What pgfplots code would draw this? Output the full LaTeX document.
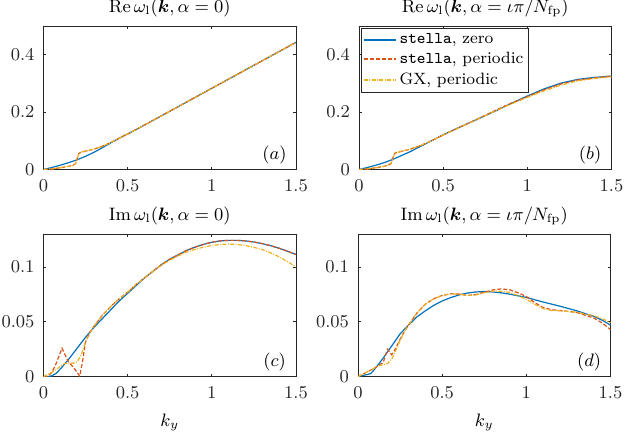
\documentclass[border=0pt]{standalone}
\usepackage{pgfplots}
\pgfplotsset{compat=1.18}
\usepackage{bm}
\definecolor{mblue}{rgb}{0,0.447,0.741}
\definecolor{morange}{rgb}{0.85,0.325,0.098}
\definecolor{myellow}{rgb}{0.929,0.694,0.125}
\definecolor{axgray}{rgb}{0.15,0.15,0.15}
\newcommand{\fs}{\fontsize{9}{10.5}\selectfont}
\newcommand{\fl}{\fontsize{8.2}{9.5}\selectfont}
\pgfplotsset{
  myax/.style={
    scale only axis, width=126.25pt, height=71.75pt,
    xmin=0, xmax=1.5, xtick={0,0.5,1,1.5},
    scaled ticks=false,
    tick align=inside, major tick length=1.3pt,
    axis line style={draw=axgray, line width=0.4pt},
    every tick/.style={draw=axgray, line width=0.4pt},
    ticklabel style={font=\fs, text=axgray},
    xticklabel style={yshift=-1.5pt},
    yticklabel style={xshift=-1pt},
    title style={font=\fs, text=black, yshift=-5pt},
    label style={font=\fs},
    xlabel style={yshift=-1pt},
    clip=true,
  },
  sb/.style={draw=mblue, line width=0.6pt, solid},
  so/.style={draw=morange, line width=0.6pt, dash pattern=on 2pt off 1pt},
  sy/.style={draw=myellow, line width=0.6pt, dash pattern=on 2pt off 0.7pt on 0.5pt off 0.7pt},
}
\begin{document}
\begin{tikzpicture}
\path[use as bounding box] (0,0) rectangle (320.5pt,218.5pt);
% (a)
\begin{axis}[myax, at={(21.75pt,133.75pt)}, anchor=south west,
  ymin=0, ymax=0.5, ytick={0,0.2,0.4},
  title={$\mathrm{Re}\,\omega_{\mathrm{l}}(\bm{k},\alpha=0)$}]
\addplot[sb] coordinates {(0,0)(0.05,0.007)(0.1,0.015)(0.15,0.024)(0.2,0.034)(0.25,0.046)(0.3,0.06)(0.35,0.076)(0.4,0.093)(0.45,0.109)(0.5,0.124)(0.55,0.139)(0.6,0.155)(0.7,0.187)(0.8,0.219)(0.9,0.251)(1.0,0.283)(1.1,0.315)(1.2,0.347)(1.3,0.379)(1.4,0.411)(1.5,0.443)};
\addplot[so] coordinates {(0,0)(0.05,0.002)(0.1,0.006)(0.15,0.011)(0.175,0.015)(0.19,0.02)(0.2,0.038)(0.21,0.056)(0.225,0.061)(0.25,0.064)(0.3,0.071)(0.35,0.081)(0.4,0.094)(0.45,0.109)(0.5,0.124)(0.55,0.139)(0.6,0.155)(0.7,0.187)(0.8,0.219)(0.9,0.251)(1.0,0.283)(1.1,0.315)(1.2,0.347)(1.3,0.379)(1.4,0.411)(1.5,0.443)};
\addplot[sy] coordinates {(0,0)(0.05,0.002)(0.1,0.006)(0.15,0.011)(0.175,0.014)(0.19,0.019)(0.2,0.037)(0.21,0.055)(0.225,0.061)(0.25,0.064)(0.3,0.071)(0.35,0.081)(0.4,0.094)(0.45,0.109)(0.5,0.124)(0.55,0.139)(0.6,0.155)(0.7,0.187)(0.8,0.219)(0.9,0.251)(1.0,0.283)(1.1,0.315)(1.2,0.347)(1.3,0.379)(1.4,0.411)(1.5,0.443)};
\node[font=\fs] at (rel axis cs:0.915,0.10) {$(a)$};
\end{axis}
% (b)
\begin{axis}[myax, at={(179.5pt,133.75pt)}, anchor=south west,
  ymin=0, ymax=0.5, ytick={0,0.2,0.4},
  title={$\mathrm{Re}\,\omega_{\mathrm{l}}(\bm{k},\alpha=\iota\pi/N_{\mathrm{fp}})$},
  legend style={at={(0.007,0.986)}, anchor=north west, draw=axgray, fill=white,
    font=\fl, inner sep=1pt, row sep=0pt, line width=0.4pt,
    nodes={inner sep=1.5pt}},
  legend cell align=left]
\addlegendimage{legend image code/.code={\draw[draw=mblue,line width=0.6pt,solid] (0pt,0pt) -- (16pt,0pt);}}
\addlegendentry{\texttt{stella}, zero}
\addlegendimage{legend image code/.code={\draw[draw=morange,line width=0.7pt,dash pattern=on 2pt off 1pt] (0pt,0.25pt) -- (16pt,0.25pt);}}
\addlegendentry{\texttt{stella}, periodic}
\addlegendimage{legend image code/.code={\draw[draw=myellow,line width=0.6pt,dash pattern=on 2pt off 0.7pt on 0.5pt off 0.7pt] (0pt,0pt) -- (16pt,0pt);}}
\addlegendentry{GX, periodic}
\addplot[sb, forget plot] coordinates {(0,0)(0.05,0.007)(0.1,0.015)(0.15,0.024)(0.2,0.035)(0.25,0.048)(0.3,0.061)(0.35,0.076)(0.4,0.091)(0.45,0.106)(0.5,0.121)(0.6,0.148)(0.7,0.174)(0.8,0.201)(0.9,0.229)(1.0,0.256)(1.1,0.281)(1.2,0.301)(1.3,0.314)(1.4,0.321)(1.5,0.325)};
\addplot[so, forget plot] coordinates {(0,0)(0.05,0.002)(0.1,0.006)(0.15,0.011)(0.175,0.016)(0.19,0.021)(0.2,0.04)(0.215,0.058)(0.25,0.063)(0.3,0.07)(0.35,0.08)(0.4,0.092)(0.5,0.12)(0.6,0.148)(0.7,0.175)(0.8,0.203)(0.9,0.23)(1.0,0.254)(1.1,0.278)(1.2,0.298)(1.3,0.312)(1.4,0.319)(1.5,0.326)};
\addplot[sy, forget plot] coordinates {(0,0)(0.05,0.002)(0.1,0.006)(0.15,0.011)(0.175,0.015)(0.19,0.02)(0.2,0.039)(0.215,0.057)(0.25,0.063)(0.3,0.07)(0.35,0.08)(0.4,0.092)(0.5,0.12)(0.6,0.147)(0.7,0.174)(0.8,0.201)(0.9,0.227)(1.0,0.251)(1.1,0.274)(1.2,0.294)(1.3,0.309)(1.4,0.317)(1.5,0.323)};
\node[font=\fs] at (rel axis cs:0.915,0.10) {$(b)$};
\end{axis}
% (c)
\begin{axis}[myax, at={(21.75pt,30.15pt)}, anchor=south west, height=71.35pt,
  ymin=0, ymax=0.13, ytick={0,0.05,0.1}, yticklabels={0,0.05,0.1},
  xlabel={$k_y$},
  title={$\mathrm{Im}\,\omega_{\mathrm{l}}(\bm{k},\alpha=0)$}]
\addplot[sb] coordinates {(0,0)(0.025,0)(0.05,0.0008)(0.075,0.003)(0.1,0.007)(0.15,0.016)(0.2,0.026)(0.25,0.036)(0.3,0.045)(0.35,0.053)(0.4,0.061)(0.45,0.069)(0.5,0.076)(0.55,0.083)(0.6,0.09)(0.65,0.096)(0.7,0.102)(0.75,0.107)(0.8,0.111)(0.85,0.115)(0.9,0.118)(0.95,0.1205)(1.0,0.1225)(1.05,0.1237)(1.1,0.1242)(1.15,0.1242)(1.2,0.1237)(1.25,0.1227)(1.3,0.1212)(1.35,0.1193)(1.4,0.117)(1.45,0.1143)(1.5,0.1113)};
\addplot[so] coordinates {(0,0)(0.025,0.0003)(0.05,0.004)(0.075,0.012)(0.1,0.022)(0.11,0.026)(0.125,0.021)(0.15,0.013)(0.175,0.009)(0.2,0.004)(0.215,0.0005)(0.23,0.012)(0.25,0.032)(0.275,0.04)(0.3,0.046)(0.35,0.056)(0.4,0.064)(0.45,0.071)(0.5,0.077)(0.55,0.084)(0.6,0.09)(0.65,0.096)(0.7,0.102)(0.75,0.107)(0.8,0.111)(0.85,0.115)(0.9,0.118)(0.95,0.1205)(1.0,0.1225)(1.05,0.1237)(1.1,0.1242)(1.15,0.1242)(1.2,0.1237)(1.25,0.1227)(1.3,0.1212)(1.35,0.1193)(1.4,0.117)(1.45,0.1143)(1.5,0.1113)};
\addplot[sy] coordinates {(0,0)(0.025,0.002)(0.05,0.004)(0.075,0.0065)(0.1,0.0095)(0.125,0.012)(0.15,0.0125)(0.175,0.0122)(0.2,0.0135)(0.225,0.02)(0.25,0.032)(0.275,0.04)(0.3,0.046)(0.35,0.056)(0.4,0.064)(0.45,0.071)(0.5,0.077)(0.55,0.084)(0.6,0.09)(0.65,0.096)(0.7,0.1015)(0.75,0.106)(0.8,0.11)(0.85,0.1135)(0.9,0.116)(0.95,0.118)(1.0,0.1195)(1.05,0.1205)(1.1,0.1208)(1.15,0.1205)(1.2,0.1195)(1.25,0.1178)(1.3,0.1158)(1.35,0.1128)(1.4,0.1092)(1.45,0.1048)(1.5,0.1)};
\node[font=\fs] at (rel axis cs:0.915,0.10) {$(c)$};
\end{axis}
% (d)
\begin{axis}[myax, at={(179pt,30.15pt)}, anchor=south west, height=71.35pt,
  ymin=0, ymax=0.13, ytick={0,0.05,0.1}, yticklabels={0,0.05,0.1},
  xlabel={$k_y$},
  title={$\mathrm{Im}\,\omega_{\mathrm{l}}(\bm{k},\alpha=\iota\pi/N_{\mathrm{fp}})$}]
\addplot[sb] coordinates {(0,0)(0.025,0.001)(0.05,0.0018)(0.075,0.0028)(0.1,0.007)(0.15,0.017)(0.2,0.028)(0.25,0.039)(0.3,0.047)(0.35,0.0545)(0.4,0.06)(0.45,0.065)(0.5,0.069)(0.55,0.072)(0.6,0.0745)(0.65,0.0762)(0.7,0.0772)(0.75,0.0776)(0.8,0.0772)(0.85,0.0764)(0.9,0.0752)(0.95,0.0737)(1.0,0.0722)(1.1,0.068)(1.2,0.0642)(1.3,0.06)(1.4,0.055)(1.45,0.0515)(1.5,0.047)};
\addplot[so] coordinates {(0,0)(0.05,0.004)(0.1,0.008)(0.15,0.013)(0.175,0.025)(0.2,0.02)(0.225,0.026)(0.25,0.034)(0.275,0.041)(0.3,0.047)(0.35,0.058)(0.4,0.066)(0.45,0.071)(0.5,0.074)(0.55,0.0755)(0.6,0.0753)(0.65,0.074)(0.7,0.0748)(0.75,0.077)(0.8,0.079)(0.85,0.08)(0.9,0.0792)(0.95,0.0765)(1.0,0.073)(1.05,0.0675)(1.1,0.063)(1.15,0.061)(1.2,0.0603)(1.3,0.0585)(1.4,0.0535)(1.45,0.049)(1.5,0.043)};
\addplot[sy] coordinates {(0,0)(0.05,0.004)(0.1,0.008)(0.125,0.01)(0.15,0.011)(0.175,0.012)(0.2,0.016)(0.225,0.024)(0.25,0.033)(0.275,0.041)(0.3,0.047)(0.35,0.058)(0.4,0.066)(0.45,0.071)(0.5,0.074)(0.55,0.0755)(0.6,0.0753)(0.65,0.074)(0.7,0.0745)(0.75,0.0765)(0.8,0.0778)(0.85,0.0778)(0.9,0.0768)(0.95,0.074)(1.0,0.0705)(1.05,0.066)(1.1,0.062)(1.15,0.0603)(1.2,0.06)(1.3,0.0588)(1.4,0.0555)(1.45,0.053)(1.5,0.049)};
\node[font=\fs] at (rel axis cs:0.915,0.10) {$(d)$};
\end{axis}
\end{tikzpicture}
\end{document}
